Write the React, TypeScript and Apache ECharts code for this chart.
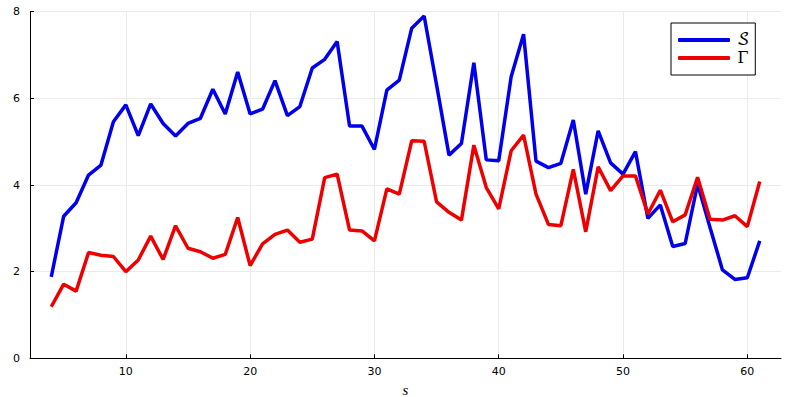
import React, { useEffect, useRef } from "react";
import * as echarts from "echarts";

const sSteps = [4,5,6,7,8,9,10,11,12,13,14,15,16,17,18,19,20,21,22,23,24,25,26,27,28,29,30,31,32,33,34,35,36,37,38,39,40,41,42,43,44,45,46,47,48,49,50,51,52,53,54,55,56,57,58,59,60,61];
const scriptS = [1.88,3.28,3.59,4.23,4.46,5.46,5.85,5.14,5.87,5.42,5.13,5.42,5.54,6.21,5.64,6.61,5.64,5.75,6.41,5.60,5.81,6.70,6.90,7.31,5.36,5.36,4.82,6.19,6.42,7.62,7.90,6.31,4.69,4.96,6.82,4.58,4.56,6.50,7.48,4.55,4.40,4.50,5.50,3.79,5.25,4.51,4.25,4.77,3.23,3.54,2.58,2.65,4.02,3.02,2.04,1.82,1.86,2.71];
const gamma = [1.19,1.71,1.55,2.44,2.38,2.35,2.00,2.27,2.82,2.28,3.06,2.54,2.46,2.31,2.40,3.25,2.14,2.64,2.86,2.96,2.68,2.75,4.17,4.25,2.96,2.94,2.71,3.91,3.79,5.02,5.01,3.61,3.37,3.19,4.92,3.94,3.45,4.79,5.15,3.79,3.09,3.06,4.36,2.92,4.42,3.87,4.21,4.21,3.33,3.88,3.15,3.31,4.18,3.21,3.19,3.29,3.04,4.08];
const xTicks = [10, 20, 30, 40, 50, 60];
const seriesNames = ["𝒮", "Γ"];

export default function App() {
  const ref = useRef<HTMLDivElement>(null);
  useEffect(() => {
    if (!ref.current) return;
    const chart = echarts.init(ref.current, null, { renderer: "svg", width: 793, height: 397 });
    const span = sSteps[sSteps.length - 1] - sSteps[0];
    const xMin = sSteps[0] - span * 0.03;
    const xMax = sSteps[sSteps.length - 1] + span * 0.03;
    const lbl = { fontFamily: "DejaVu Sans", fontSize: 11, color: "#000" };
    chart.setOption({
      animation: false,
      backgroundColor: "#fff",
      grid: { left: 30, right: 12, top: 11.7, bottom: 38.7, outerBoundsMode: "none", containLabel: false },
      legend: {
        orient: "vertical",
        left: 671,
        top: 23,
        backgroundColor: "#fff",
        borderColor: "#000",
        borderWidth: 1,
        borderRadius: 0,
        padding: [9, 6, 9, 7],
        itemWidth: 52,
        itemHeight: 4,
        itemGap: 2,
        icon: "roundRect",
        textStyle: { fontFamily: "DejaVu Math TeX Gyre, DejaVu Serif, serif", fontSize: 16, color: "#000", padding: [0, 0, 0, 2] },
        data: seriesNames,
      },
      xAxis: {
        type: "value",
        min: xMin,
        max: xMax,
        name: "s",
        nameLocation: "middle",
        nameGap: 23,
        nameTextStyle: { fontFamily: "Liberation Serif, DejaVu Serif, serif", fontStyle: "italic", fontSize: 15, lineHeight: 14, color: "#000" },
        axisLine: { show: true, lineStyle: { color: "#000", width: 1 } },
        axisTick: { show: true, inside: true, length: 4, customValues: xTicks, lineStyle: { color: "#000" } },
        axisLabel: { ...lbl, margin: 8, customValues: xTicks },
        splitLine: { show: true, lineStyle: { color: "#ebebeb", width: 1 } },
      },
      yAxis: {
        type: "value",
        min: 0,
        max: 8,
        interval: 2,
        axisLine: { show: true, lineStyle: { color: "#000", width: 1 } },
        axisTick: { show: true, inside: true, length: 4, lineStyle: { color: "#000" } },
        axisLabel: { ...lbl, margin: 10 },
        splitLine: { show: true, lineStyle: { color: "#ebebeb", width: 1 } },
      },
      series: [
        {
          name: seriesNames[0],
          type: "line",
          data: sSteps.map((x, i) => [x, scriptS[i]]),
          symbol: "none",
          lineStyle: { color: "#0000ee", width: 3.5 },
          itemStyle: { color: "#0000ee" },
        },
        {
          name: seriesNames[1],
          type: "line",
          data: sSteps.map((x, i) => [x, gamma[i]]),
          symbol: "none",
          lineStyle: { color: "#ee0000", width: 3.5 },
          itemStyle: { color: "#ee0000" },
        },
      ],
    });
    return () => chart.dispose();
  }, []);
  return <div ref={ref} style={{ position: "fixed", left: 0, top: 0, width: 793, height: 397 }} />;
}
